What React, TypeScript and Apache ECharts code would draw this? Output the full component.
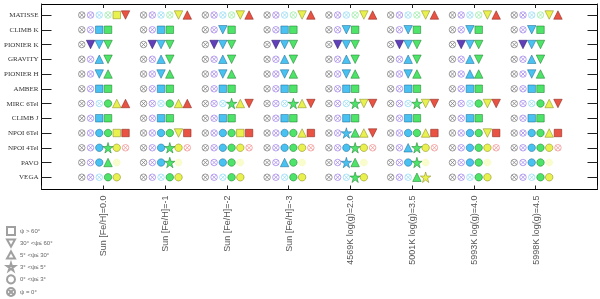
import React, { useEffect, useRef } from "react";
import * as echarts from "echarts";

const instruments = ["MATISSE", "CLIMB K", "PIONIER K", "GRAVITY", "PIONIER H", "AMBER", "MIRC 6Tel", "CLIMB J", "NPOI 6Tel", "NPOI 4Tel", "PAVO", "VEGA"];
const models = ["Sun [Fe/H]=0.0", "Sun [Fe/H]=-1", "Sun [Fe/H]=-2", "Sun [Fe/H]=-3", "4569K log(g)=2.0", "5001K log(g)=3.5", "5993K log(g)=4.0", "5998K log(g)=4.5"];

// Per instrument, per model: one code per spectral channel
// X: psi=0, O: 0<psi<=3, S: 3<psi<=5, T: 5<psi<=30, V: 30<psi<=60, Q: psi>60, F: faint
const matisse = ["XXXXQV", "XXXXVT", "XXXXVT", "XXXXVT", "XXXXVT", "XXXXVT", "XXXXVT", "XXXXVT"];
const climbK = ["XXQQ", "XXQQ", "XXVQ", "XXQQ", "XXVQ", "XXVQ", "XXVQ", "XXVQ"];
const pionierK = ["XVVV", "XVVV", "XVVV", "XVVV", "XVVV", "XVVV", "XVVV", "XVVV"];
const gravity = ["XXTV", "XXTV", "XXTV", "XXTV", "XXTV", "XXTV", "XXTV", "XXTV"];
const pionierH = ["XXVT", "XXVT", "XXVT", "XXVT", "XXVT", "XXVT", "XXTT", "XXVT"];
const amber = ["XXQQ", "XXQQ", "XXQQ", "XXQQ", "XXQQ", "XXQQ", "XXQQ", "XXQQ"];
const mirc = ["XXXOTT", "XXXOTT", "XXXSTV", "XXXSTV", "XXXSVV", "XXXSVV", "XXXOVV", "XXXOTV"];
const climbJ = ["XXQQ", "XXQQ", "XXQQ", "XXQQ", "XXQQ", "XXQQ", "XXQQ", "XXQQ"];
const npoi6 = ["XXOOQQ", "XXOOVQ", "XXOOQQ", "XXOOTQ", "XXSTTV", "XXOOTQ", "XXOOVQ", "XXOOTQ"];
const npoi4 = ["XXOSOX", "XXOSOX", "XXOOOX", "XXOOOX", "XXOSOX", "XXTSOX", "XXOOOX", "XXOOOX"];
const pavo = ["XXOTF", "XXOSF", "XXOOF", "XXTOF", "XXSTF", "XXOSF", "XXOOF", "XXOOF"];
const vega = ["XXXOO", "XXXOO", "XXXOO", "XXXOO", "XXXSO", "XXXTS", "XXXOO", "XXXOO"];
const rows = [matisse, climbK, pionierK, gravity, pionierH, amber, mirc, climbJ, npoi6, npoi4, pavo, vega];

const legendNames: Record<string, string> = {
  Q: "ψ > 60°",
  V: "30° <ψ≤ 60°",
  T: "5° <ψ≤ 30°",
  S: "3° <ψ≤ 5°",
  O: "0° <ψ≤ 3°",
  X: "ψ = 0°",
};

// styles
const offsets = [-0.348, -0.206, -0.065, 0.077, 0.218, 0.36];
const fillColors = ["#8a8a8a", "#3a12a8", "#1cb2ee", "#22dd44", "#e2ee22", "#e22814"];
const edgeColors = ["#444444", "#1a0660", "#0e5e88", "#0e7020", "#7a7a10", "#7a1208"];
const crossColors = ["#777777", "#9c7ee8", "#8ed8f4", "#94eaa0", "#eeee90", "#ee8a88"];

const STAR = "path://M50,0L61,35L98,35L68,57L79,91L50,70L21,91L32,57L2,35L39,35Z";
const TDOWN = "path://M0,0L10,0L5,9Z";
const TUP = "path://M5,0L10,9L0,9Z";
const OTIMES = "path://M10,0A10,10,0,1,1,10,20A10,10,0,1,1,10,0ZM3,3L17,17M17,3L3,17";

const shapes: Record<string, { symbol: string; size: number }> = {
  Q: { symbol: "rect", size: 7.5 },
  V: { symbol: TDOWN, size: 8.5 },
  T: { symbol: TUP, size: 8.5 },
  S: { symbol: STAR, size: 10.5 },
  O: { symbol: "circle", size: 7.5 },
  X: { symbol: OTIMES, size: 6.5 },
  F: { symbol: "circle", size: 7 },
};

const frameAxis = (extra: any) => ({
  type: "value", gridIndex: 1, min: 0, max: 1,
  axisLine: { show: true, onZero: false, lineStyle: { color: "#000", width: 1 } },
  axisTick: { show: false }, axisLabel: { show: false }, splitLine: { show: false },
  ...extra,
});

export default function App() {
  const ref = useRef<HTMLDivElement>(null);
  useEffect(() => {
    if (!ref.current) return;
    const chart = echarts.init(ref.current, undefined, { renderer: "svg" });
    const buckets: Record<string, any[]> = { Q: [], V: [], T: [], S: [], O: [], X: [], F: [] };
    rows.forEach((row, r) => {
      row.forEach((codes, c) => {
        codes.split("").forEach((code, i) => {
          if (!buckets[code]) return;
          let itemStyle: any;
          if (code === "X") itemStyle = { color: "rgba(255,255,255,0)", borderColor: crossColors[i], borderWidth: 0.9 };
          else if (code === "F") itemStyle = { color: "#f8fcc0", borderColor: "#f4f8b0", borderWidth: 0.5 };
          else itemStyle = { color: fillColors[i], borderColor: edgeColors[i], borderWidth: 0.6 };
          buckets[code].push({ value: [c + 1 + offsets[i], r + 1], itemStyle });
        });
      });
    });
    const order = ["Q", "V", "T", "S", "O", "X", "F"];
    const series = order.map((k) => ({
      type: "scatter",
      name: k === "F" ? "faint" : legendNames[k],
      xAxisIndex: 0,
      yAxisIndex: 0,
      symbol: shapes[k].symbol,
      symbolSize: shapes[k].size,
      itemStyle: { color: "rgba(255,255,255,0)", borderColor: "#888", borderWidth: 0.6 },
      emphasis: { disabled: true },
      data: buckets[k],
    }));
    const yCats = ["", ...instruments, ""];
    const xLabels = ["", ...models, ""];
    chart.setOption({
      animation: false,
      grid: [
        { left: 41.5, right: 2.5, top: 0.25, height: 191.75 },
        { left: 41.5, right: 2.5, top: 4, height: 185.5 },
      ],
      legend: {
        orient: "vertical",
        left: 6,
        top: 226,
        height: 90,
        padding: 0,
        itemWidth: 8,
        itemHeight: 8,
        itemGap: 2.6,
        selectedMode: false,
        textStyle: { fontSize: 6, lineHeight: 8, color: "#666", fontFamily: "Liberation Sans" },
        data: order.filter((k) => k !== "F").map((k) => legendNames[k]),
      },
      xAxis: [
        { type: "value", gridIndex: 0, min: 0, max: 9, interval: 1, show: false },
        {
          ...frameAxis({ position: "bottom", min: 0, max: 9, interval: 1 }),
          axisTick: { show: true, inside: true, length: 4, lineStyle: { color: "#222" } },
          axisLabel: {
            rotate: 90, margin: 6, fontSize: 9, color: "#555", fontFamily: "Liberation Sans",
            formatter: (v: number) => xLabels[Math.round(v)] || "",
          },
        },
        {
          ...frameAxis({ position: "top", min: 0, max: 9, interval: 1 }),
          axisTick: { show: true, inside: true, length: 4, lineStyle: { color: "#222" } },
        },
      ],
      yAxis: [
        {
          type: "category", gridIndex: 0, data: yCats, inverse: true, boundaryGap: false, position: "left",
          axisLine: { show: false },
          axisTick: { show: true, inside: true, length: 10, interval: (i: number) => i > 0 && i < 13, lineStyle: { color: "#222" } },
          axisLabel: { interval: 0, margin: 3, fontSize: 7, color: "#333", fontFamily: "Liberation Serif" },
          splitLine: { show: false },
        },
        {
          type: "category", gridIndex: 0, data: yCats, inverse: true, boundaryGap: false, position: "right",
          axisLine: { show: false },
          axisTick: { show: true, inside: true, length: 10, interval: (i: number) => i > 0 && i < 13, lineStyle: { color: "#222" } },
          axisLabel: { show: false },
          splitLine: { show: false },
        },
        frameAxis({ position: "left" }),
        frameAxis({ position: "right" }),
      ],
      series,
    });
    return () => chart.dispose();
  }, []);
  return <div ref={ref} style={{ position: "fixed", left: 0, top: 0, width: 600, height: 299 }} />;
}
